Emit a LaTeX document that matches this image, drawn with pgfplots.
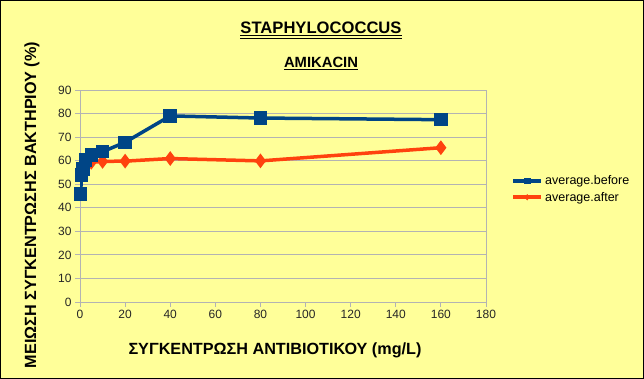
\documentclass[border=0pt]{standalone}
\usepackage{pgfplots}
\pgfplotsset{compat=1.18}
\usepackage{fontspec}
\setmainfont{Liberation Sans}
\definecolor{bgy}{HTML}{FFFF99}
\definecolor{ser1}{HTML}{004586}
\definecolor{ser2}{HTML}{FF420E}
\definecolor{gridc}{HTML}{B3B3B3}
\begin{document}
\begin{tikzpicture}[x=1pt,y=1pt]
\path[fill=bgy,draw=black,line width=1pt] (0.5,0.5) rectangle (643.5,378.5);
\useasboundingbox (0,0) rectangle (644,379);
\begin{axis}[
  at={(80pt,77pt)}, anchor=south west,
  width=406pt, height=212pt, scale only axis,
  xmin=0, xmax=180, ymin=0, ymax=90,
  xtick={0,20,...,180}, ytick={0,10,...,90},
  xtick pos=bottom, ytick pos=left,
  axis line style={gridc, line width=0.8pt},
  tick style={gridc, line width=0.8pt},
  tick align=outside, major tick length=5pt,
  ymajorgrids, grid style={gridc, line width=0.8pt},
  tick label style={font=\fontsize{12}{14}\selectfont, text=black!85},
  /pgf/number format/assume math mode=true,
]
\addplot[ser2, line width=3.5pt, mark=diamond*, mark size=4.5pt, mark options={solid}] coordinates {
 (0.3125,55) (0.625,57) (1.25,58) (2.5,58.5) (5,59.3) (10,59.7) (20,59.8) (40,60.9) (80,59.9) (160,65.5)
};
\addplot[ser1, line width=3.5pt, mark=square*, mark size=5pt, mark options={solid}] coordinates {
 (0.3125,45.8) (0.625,54) (1.25,56.5) (2.5,60.2) (5,62.5) (10,63.8) (20,67.8) (40,79) (80,78.1) (160,77.4)
};
\end{axis}
\begin{axis}[
  at={(80pt,77pt)}, anchor=south west,
  width=406pt, height=212pt, scale only axis,
  xmin=0, xmax=180, ymin=0, ymax=90, hide axis,
  legend style={at={(1,0.533)}, anchor=west, xshift=22pt, draw=none, fill=none,
    font=\fontsize{12.5}{15}\selectfont, row sep=2pt},
  legend cell align=left,
  legend image code/.code={\draw[#1, mark=none, line width=4pt] (0pt,0pt) -- (28pt,0pt);
     \draw[#1, mark size=2.8pt, line width=0.5pt] plot coordinates {(14pt,0pt)};},
]
\addlegendimage{ser1, mark=square*, mark options={solid}}
\addlegendentry{average.before}
\addlegendimage{ser2, mark=diamond*, mark options={solid}}
\addlegendentry{average.after}
\end{axis}
\node[font=\fontsize{16.6}{18}\selectfont\bfseries, inner sep=0pt] (t) at (321,351) {STAPHYLOCOCCUS};
\draw[line width=1pt] ([yshift=-2.2pt]t.base west) -- ([yshift=-2.2pt]t.base east);
\draw[line width=1pt] ([yshift=-4.4pt]t.base west) -- ([yshift=-4.4pt]t.base east);
\node[font=\fontsize{14.8}{16}\selectfont\bfseries, inner sep=0pt] (s) at (321,317) {AMIKACIN};
\draw[line width=1pt] ([yshift=-2.2pt]s.base west) -- ([yshift=-2.2pt]s.base east);
\node[font=\fontsize{16.2}{18}\selectfont\bfseries] at (275,29) {ΣΥΓΚΕΝΤΡΩΣΗ ΑΝΤΙΒΙΟΤΙΚΟΥ (mg/L)};
\node[font=\fontsize{16.2}{18}\selectfont\bfseries, rotate=90] at (32,174) {ΜΕΙΩΣΗ ΣΥΓΚΕΝΤΡΩΣΗΣ ΒΑΚΤΗΡΙΟΥ (\%)};
\end{tikzpicture}
\end{document}
